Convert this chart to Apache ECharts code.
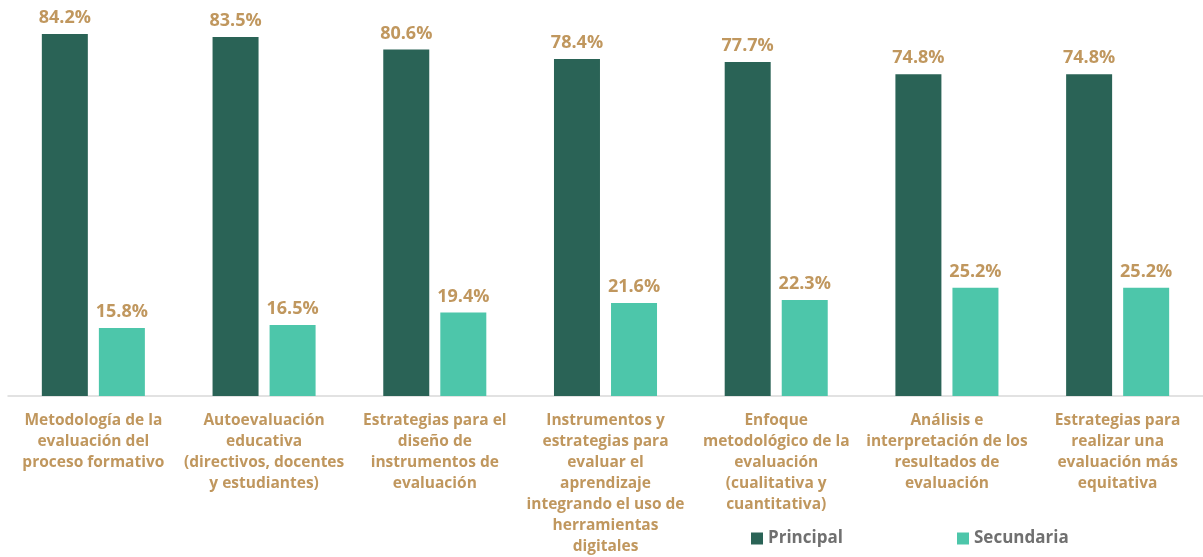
<!DOCTYPE html>
<html>
<head>
<meta charset="utf-8">
<script src="https://cdn.jsdelivr.net/npm/echarts@6/dist/echarts.min.js"></script>
<style>
  html, body { margin: 0; padding: 0; background: #fff; }
  #chart { width: 1203px; height: 557px; }
</style>
</head>
<body>
<div id="chart"></div>
<script>
// categorías (con saltos de línea como en la figura)
const categories = [
    'Metodología de la\nevaluación del\nproceso formativo',
    'Autoevaluación\neducativa\n(directivos, docentes\ny estudiantes)',
    'Estrategias para el\ndiseño de\ninstrumentos de\nevaluación',
    'Instrumentos y\nestrategias para\nevaluar el\naprendizaje\nintegrando el uso de\nherramientas\ndigitales',
    'Enfoque\nmetodológico de la\nevaluación\n(cualitativa y\ncuantitativa)',
    'Análisis e\ninterpretación de los\nresultados de\nevaluación',
    'Estrategias para\nrealizar una\nevaluación más\nequitativa'
]
const principal = [84.2, 83.5, 80.6, 78.4, 77.7, 74.8, 74.8]
const secundaria = [15.8, 16.5, 19.4, 21.6, 22.3, 25.2, 25.2]

const gold = '#C0975E'
const font = '"Open Sans", sans-serif'

const chart = echarts.init(document.getElementById('chart'))

const valueLabel = {
    show: true,
    position: 'top',
    distance: 7,
    color: gold,
    fontFamily: font,
    fontWeight: 'bold',
    fontSize: 18,
    formatter: (p) => p.value.toFixed(1) + '%'
}

const legendBase = {
    bottom: 5,
    icon: 'rect',
    itemWidth: 12,
    itemHeight: 12,
    itemGap: 5,
    textStyle: {
        color: '#707070',
        fontFamily: font,
        fontWeight: 'bold',
        fontSize: 17
    }
}

chart.setOption({
    animation: false,
    grid: {
        left: 8,
        right: -9,
        top: 9,
        bottom: 158
    },
    legend: [
        Object.assign({ left: 746, data: ['Principal'] }, legendBase),
        Object.assign({ left: 952, data: ['Secundaria'] }, legendBase)
    ],
    xAxis: {
        type: 'category',
        data: categories,
        axisLine: { lineStyle: { color: '#d9d9d9', width: 1.5 } },
        axisTick: { show: false },
        axisLabel: {
            interval: 0,
            margin: 14,
            color: gold,
            fontFamily: font,
            fontWeight: 'bold',
            fontSize: 15.5,
            lineHeight: 21
        }
    },
    yAxis: {
        type: 'value',
        min: 0,
        max: 90,
        show: false
    },
    series: [
        {
            name: 'Principal',
            type: 'bar',
            data: principal,
            barWidth: 46,
            barGap: '24%',
            itemStyle: { color: '#2A6356' },
            label: valueLabel
        },
        {
            name: 'Secundaria',
            type: 'bar',
            data: secundaria,
            barWidth: 46,
            itemStyle: { color: '#4DC6AA' },
            label: valueLabel
        }
    ]
})
</script>
</body>
</html>
